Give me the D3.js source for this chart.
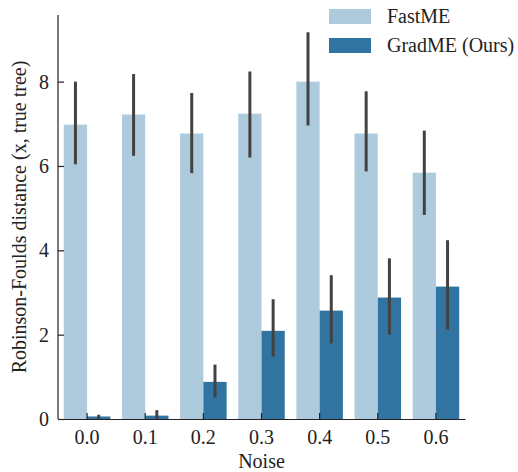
<!DOCTYPE html>
<html>
<head>
<meta charset="utf-8">
<script src="https://cdn.jsdelivr.net/npm/d3@7"></script>
<style>
  body { margin: 0; background: #fff; }
  text { font-family: "Liberation Serif", "DejaVu Serif", serif; fill: #222; }
</style>
</head>
<body>
<div id="viz"></div>
<script>
const categories = ['0.0', '0.1', '0.2', '0.3', '0.4', '0.5', '0.6'];
const series = ['FastME', 'GradME (Ours)'];
const fastme = [6.98, 7.22, 6.77, 7.24, 8.0, 6.77, 5.84];
const fastmeLo = [6.04, 6.24, 5.83, 6.2, 6.96, 5.87, 4.84];
const fastmeHi = [8.0, 8.18, 7.73, 8.24, 9.17, 7.77, 6.84];
const gradme = [0.06, 0.08, 0.88, 2.09, 2.57, 2.88, 3.14];
const gradmeLo = [0.0, 0.0, 0.51, 1.48, 1.79, 2.0, 2.12];
const gradmeHi = [0.1, 0.21, 1.29, 2.84, 3.41, 3.81, 4.24];
const yTicks = [0, 2, 4, 6, 8];
const colors = ['#aecbdd', '#3274a1'];

const width = 518, height = 472;
const margin = { top: 15, right: 53, bottom: 53, left: 58 };
const fs = 20;

const svg = d3.select('#viz').append('svg')
  .attr('width', width)
  .attr('height', height);

const x = d3.scaleBand()
  .domain(categories)
  .range([margin.left, width - margin.right])
  .paddingInner(0).paddingOuter(0);

const xs = d3.scaleBand()
  .domain(series)
  .range([0, x.bandwidth()])
  .paddingInner(0).paddingOuter(0.25);

const y = d3.scaleLinear()
  .domain([0, 9.58])
  .range([height - margin.bottom, margin.top]);

const rows = [];
categories.forEach((c, i) => {
  rows.push({ cat: c, s: series[0], v: fastme[i], lo: fastmeLo[i], hi: fastmeHi[i], col: colors[0] });
  rows.push({ cat: c, s: series[1], v: gradme[i], lo: gradmeLo[i], hi: gradmeHi[i], col: colors[1] });
});

// bars
svg.append('g').selectAll('rect')
  .data(rows)
  .join('rect')
  .attr('x', d => x(d.cat) + xs(d.s))
  .attr('y', d => y(d.v))
  .attr('width', xs.bandwidth())
  .attr('height', d => y(0) - y(d.v))
  .attr('fill', d => d.col);

// error bars
svg.append('g').selectAll('line')
  .data(rows)
  .join('line')
  .attr('x1', d => x(d.cat) + xs(d.s) + xs.bandwidth() / 2)
  .attr('x2', d => x(d.cat) + xs(d.s) + xs.bandwidth() / 2)
  .attr('y1', d => y(d.lo))
  .attr('y2', d => y(d.hi))
  .attr('stroke', '#424242')
  .attr('stroke-width', 3);

// axes
const xAxis = svg.append('g')
  .attr('transform', `translate(0,${height - margin.bottom})`)
  .call(d3.axisBottom(x).tickSizeInner(-6).tickSizeOuter(0).tickPadding(11));
const yAxis = svg.append('g')
  .attr('transform', `translate(${margin.left},0)`)
  .call(d3.axisLeft(y).tickValues(yTicks).tickFormat(d3.format('d')).tickSizeInner(-6).tickSizeOuter(0).tickPadding(9));

[xAxis, yAxis].forEach(a => {
  a.select('.domain').attr('stroke', '#222').attr('stroke-width', 1.2);
  a.selectAll('.tick line').attr('stroke', '#222').attr('stroke-width', 1.2);
  a.selectAll('.tick text').attr('font-size', fs).attr('fill', '#222');
});
yAxis.select('.domain').attr('d', `M0,${y(0)}V${margin.top}`);

// axis labels
svg.append('text')
  .attr('x', (margin.left + width - margin.right) / 2)
  .attr('y', 468)
  .attr('text-anchor', 'middle')
  .attr('font-size', fs)
  .text('Noise');

svg.append('text')
  .attr('transform', `translate(26,${(y(0) + margin.top) / 2}) rotate(-90)`)
  .attr('text-anchor', 'middle')
  .attr('font-size', fs)
  .text('Robinson-Foulds distance (x, true tree)');

// legend
const legend = svg.append('g');
series.forEach((s, i) => {
  legend.append('rect')
    .attr('x', 329)
    .attr('y', 9 + i * 29)
    .attr('width', 42)
    .attr('height', 15)
    .attr('fill', colors[i]);
  legend.append('text')
    .attr('x', 387)
    .attr('y', 23 + i * 29)
    .attr('font-size', fs)
    .text(s);
});
</script>
</body>
</html>
